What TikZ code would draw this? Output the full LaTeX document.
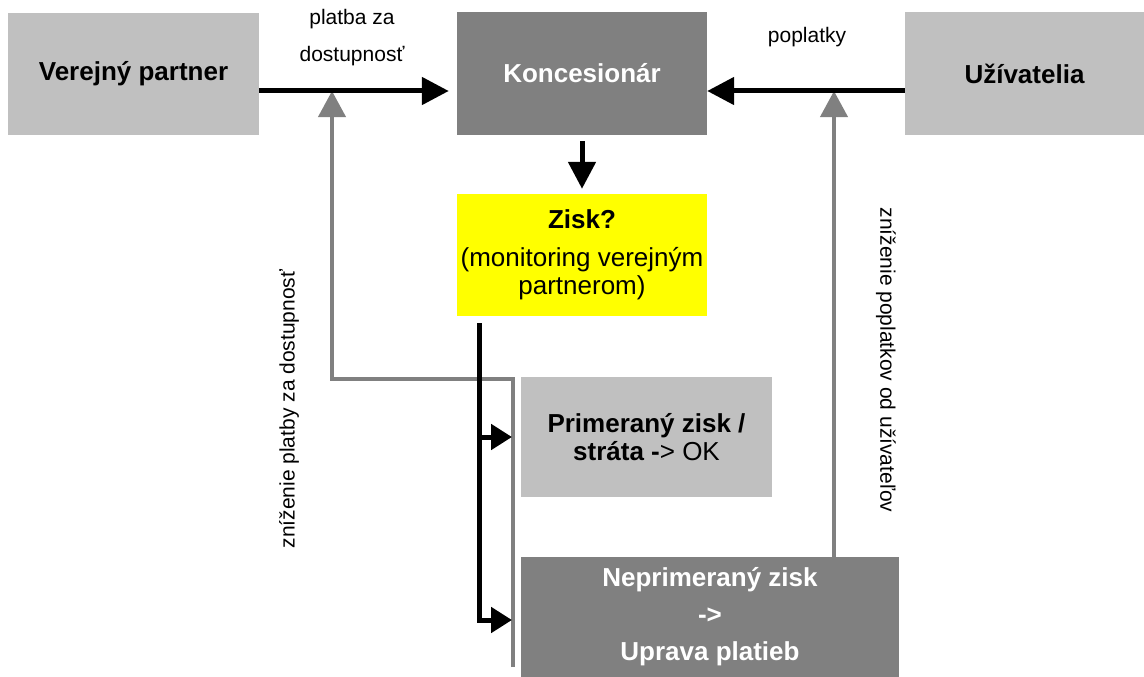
\documentclass[tikz,border=0pt]{standalone}
\usepackage{fontspec}
\setmainfont{Liberation Sans}
\usetikzlibrary{arrows.meta}
\definecolor{boxlight}{HTML}{C0C0C0}
\definecolor{boxdark}{HTML}{808080}
\definecolor{boxyellow}{HTML}{FFFF00}
\definecolor{linegray}{HTML}{808080}
\begin{document}
\begin{tikzpicture}[x=1pt,y=-1pt,
  box/.style={rectangle, inner sep=0pt, align=center,
    font=\fontsize{26}{28}\selectfont\bfseries},
  lightbox/.style={box, fill=boxlight, text=black},
  darkbox/.style={box, fill=boxdark, text=white},
  yellowbox/.style={box, fill=boxyellow, text=black},
  flow/.style={draw=black, line width=5pt, -{Triangle[length=27pt,width=27pt]}},
  branch/.style={draw=black, line width=5pt, -{Triangle[length=21pt,width=25pt]}},
  feedback/.style={draw=linegray, line width=4pt, -{Triangle[length=26pt,width=27pt]}},
  lbl/.style={inner sep=0pt, font=\fontsize{21}{25}\selectfont}
]
\useasboundingbox (0,0) rectangle (1144,677);

% main parties
\node[lightbox, minimum width=251pt, minimum height=122pt] (pub) at (133.5,74) {Verejný partner};
\node[darkbox, minimum width=250pt, minimum height=123pt] (conc) at (582,73.5) {Koncesionár};
\node[lightbox, minimum width=239pt, minimum height=123pt] (users) at (1024.5,73.5) {Užívatelia};

% profit check and outcomes
\node[yellowbox, minimum width=250pt, minimum height=122pt] (profit) at (582,255)
  {Zisk?\\[10pt]{\mdseries (monitoring verejným}\\{\mdseries partnerom)}};
\node[lightbox, minimum width=251pt, minimum height=120pt] (fair) at (646.5,437)
  {Primeraný zisk /\\stráta -{\mdseries> OK}};
\node[darkbox, minimum width=378pt, minimum height=120pt] (unfair) at (710,617)
  {Neprimeraný zisk\\[9pt]->\\[9pt]Uprava platieb};

% flow labels
\node[lbl, anchor=base] (lblPayA) at (352,25) {platba za};
\node[lbl, anchor=base] (lblPayB) at (352,62) {dostupnosť};
\node[lbl, anchor=base] (lblFees) at (807,43) {poplatky};
\node[lbl, rotate=90] (lblCutPay) at (289,409) {zníženie platby za dostupnosť};
\node[lbl, rotate=-90] (lblCutFees) at (886,360) {zníženie poplatkov od užívateľov};

% helper coordinates
\coordinate (rowA) at (0,91);
\coordinate (leftRise) at (332,379);
\coordinate (leftCorner) at (513,379);
\coordinate (leftFoot) at (513,667);
\coordinate (rightRise) at (834,0);
\coordinate (split) at (479,323);
\coordinate (splitMid) at (479,437);
\coordinate (splitLow) at (479,620);
\coordinate (tipMid) at (512,437);
\coordinate (tipLow) at (512,620);

% feedback corrections
\draw[feedback] (leftFoot) -- (leftCorner) -- (leftRise) -- (leftRise |- rowA);
\draw[feedback] (unfair.north -| rightRise) -- (rowA -| rightRise);

% payments
\draw[flow, shorten >=8pt] (pub.east |- rowA) -- (conc.west |- rowA);
\draw[flow] (users.west |- rowA) -- (conc.east |- rowA);
\draw[flow, shorten <=6pt, shorten >=5pt] (conc.south) -- (profit.north);

% outcome branches
\draw[branch] (split) -- (splitLow) -- (tipLow);
\draw[branch] (splitMid) -- (tipMid);
\end{tikzpicture}
\end{document}
